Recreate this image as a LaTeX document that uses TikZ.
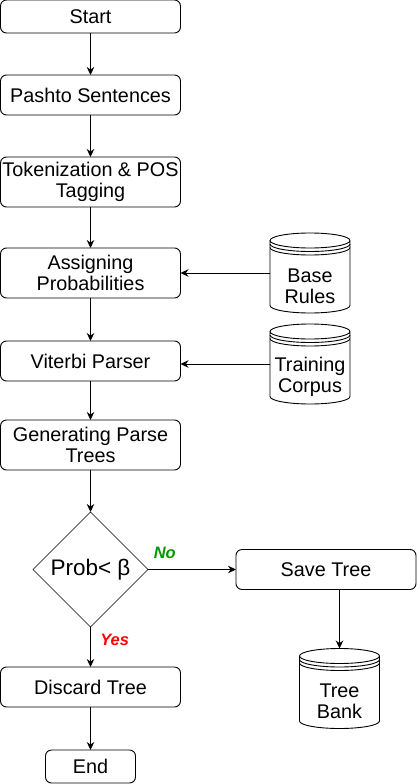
\documentclass[tikz,border=0pt]{standalone}
\usepackage{fontspec}
\setmainfont{Liberation Sans}
\usetikzlibrary{shapes, arrows.meta, positioning}

\begin{document}
\begin{tikzpicture}[
        process/.style={draw, rounded corners=6pt, line width=0.9pt, outer sep=0pt, align=center, minimum height=40pt, minimum width=180pt, inner sep=0pt, font=\fontsize{19.8}{21}\selectfont},
        decision/.style={draw, diamond, aspect=1, line width=0.6pt, outer sep=0pt, minimum width=115pt, minimum height=115pt, inner sep=0pt, font=\fontsize{22.5}{26}\selectfont},
        store/.style={minimum width=80pt, minimum height=80pt, inner sep=0pt, outer sep=0pt},
        storetext/.style={align=center, yshift=-13pt, font=\fontsize{19.8}{21}\selectfont},
        arrow/.style={-{Stealth[length=8pt, width=7.5pt]}, line width=0.9pt},
        answer/.style={font=\fontsize{16.5}{18}\selectfont\bfseries\itshape}
    ]
        \useasboundingbox (0,0) rectangle (417pt,-784pt);

        % Define nodes for main flow
        \node[process, minimum height=33pt] (start) at (90.5pt,-16.5pt) {Start};
        \node[process, below=42pt of start] (pashto) {Pashto Sentences};
        \node[process, minimum height=50pt, below=42pt of pashto] (token) {Tokenization \& POS\\Tagging};
        \node[process, minimum height=50pt, below=41pt of token] (assign) {Assigning\\Probabilities};
        \node[process, below=43pt of assign] (viterbi) {Viterbi Parser};
        \node[process, minimum height=50pt, below=39pt of viterbi] (generate) {Generating Parse\\Trees};
        \node[decision, below=42pt of generate] (prob) {Prob< β};
        \node[process, below=40pt of prob] (discard) {Discard Tree};
        \node[process, minimum width=90pt, minimum height=33pt, below=43pt of discard] (end) {End};

        % Side nodes
        \node[process, right=88pt of prob] (save) {Save Tree};
        \node[store, right=89.5pt of assign, label={[storetext]center:Base\\Rules}] (rules) {};
        \node[store, right=89.5pt of viterbi, yshift=-3pt, label={[storetext]center:Training\\Corpus}] (corpus) {};
        \node[store, below=59pt of save, xshift=13.5pt, label={[storetext]center:Tree\\Bank}] (bank) {};

        % Datastore outlines
        \foreach \db in {rules, corpus, bank} {
            \draw[line width=0.9pt] ([yshift=-7.5pt]\db.north west) -- ([yshift=7.5pt]\db.south west)
                arc[start angle=180, end angle=360, x radius=40pt, y radius=7.5pt]
                -- ([yshift=-7.5pt]\db.north east)
                arc[start angle=0, end angle=360, x radius=40pt, y radius=7.5pt];
            \draw[line width=0.9pt] ([yshift=-11pt]\db.north west) arc[start angle=180, end angle=360, x radius=40pt, y radius=7.5pt];
            \draw[line width=0.9pt] ([yshift=-14.5pt]\db.north west) arc[start angle=180, end angle=360, x radius=40pt, y radius=7.5pt];
        }

        % Main flow arrows
        \draw[arrow] (start) -- (pashto);
        \draw[arrow] (pashto) -- (token);
        \draw[arrow] (token) -- (assign);
        \draw[arrow] (assign) -- (viterbi);
        \draw[arrow] (viterbi) -- (generate);
        \draw[arrow] (generate) -- (prob);
        \draw[arrow] (prob) -- node[answer, pos=0.33, right, xshift=6pt, text=red] {Yes} (discard);
        \draw[arrow] (discard) -- (end);

        % Side arrows
        \draw[arrow] (rules.west) -- (assign.east);
        \draw[arrow] (corpus.west) -- (corpus.west -| viterbi.east);
        \draw[arrow] (prob.east) -- node[answer, pos=0, anchor=south west, xshift=2pt, yshift=7pt, text={rgb,255:red,0;green,153;blue,0}] {No} (save.west);
        \draw[arrow] (save.south -| bank.north) -- (bank.north);

    \end{tikzpicture}
\end{document}
